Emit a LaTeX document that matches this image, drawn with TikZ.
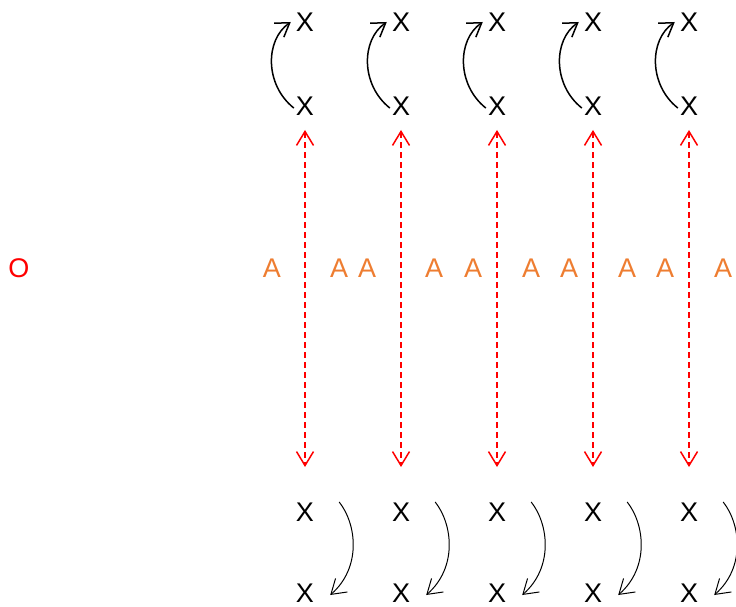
\documentclass[tikz,border=0pt]{standalone}
\usepackage{fontspec}
\setmainfont{Liberation Sans}
\usetikzlibrary{arrows.meta,calc}
\definecolor{aorange}{RGB}{238,125,49}
\tikzset{
  lbl/.style={inner sep=0pt, font=\fontsize{27}{27}\selectfont},
  xlbl/.style={lbl, text=black},
  albl/.style={lbl, text=aorange},
  olbl/.style={lbl, text=red},
  redarr/.style={draw=red, line width=1.5pt, dash pattern=on 6pt off 4pt,
    {Straight Barb[length=14pt,width=17pt,line width=1.5pt]}-{Straight Barb[length=14pt,width=17pt,line width=1.5pt]}},
  uparr/.style={draw=black, line width=1.5pt, -{Straight Barb[length=13pt,width=17pt]}},
  downarr/.style={draw=black, line width=1pt, -{Straight Barb[length=14pt,width=18pt]}}
}
\begin{document}
\begin{tikzpicture}[x=1pt,y=-1pt]
\useasboundingbox (0,0) rectangle (736,607);
\node[olbl] (o) at (19,268) {O};
\foreach \i/\cx in {1/305,2/401,3/497,4/593,5/689}{
  \node[xlbl] (t\i) at (\cx,22) {X};
  \node[xlbl] (u\i) at (\cx,106) {X};
  \node[xlbl] (d\i) at (\cx,512) {X};
  \node[xlbl] (b\i) at (\cx,593) {X};
  \coordinate (rt\i) at (\cx,130);
  \coordinate (rb\i) at (\cx,467);
  \draw[redarr] (rt\i) -- (rb\i);
  \draw[uparr] ($(u\i.west)+(-2,2)$) .. controls +(-29,-23) and +(-26,18) .. ($(t\i.west)+(-5,0)$);
  \draw[downarr] ($(d\i.east)+(25,-10)$) .. controls +(18,23) and +(31,-27) .. ($(b\i.east)+(16,2)$);
}
\foreach \j/\ax in {1/272,2/339,3/367,4/434,5/473,6/531,7/569,8/627,9/665,10/723}{
  \node[albl] (a\j) at (\ax,268) {A};
}
\end{tikzpicture}
\end{document}
